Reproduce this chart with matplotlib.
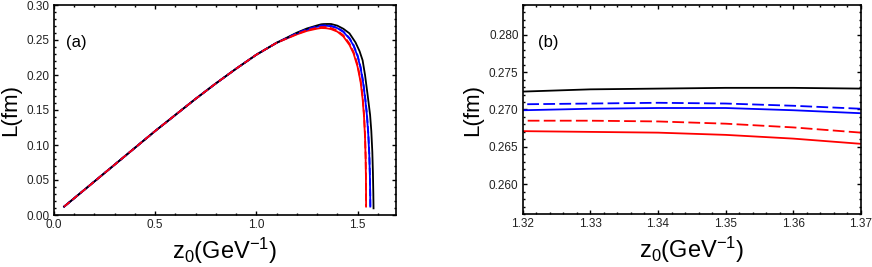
import matplotlib
matplotlib.use("Agg")
import matplotlib.pyplot as plt
from matplotlib.ticker import MultipleLocator, FixedLocator, FormatStrFormatter

plt.rcParams['font.family'] = ['Liberation Sans', 'DejaVu Sans']
plt.rcParams['mathtext.default'] = 'regular'

# ---- data ----
# common rising branch (all curves coincide here)
z_rise = [0.05, 0.10, 0.20, 0.30, 0.40, 0.50, 0.60, 0.70, 0.80, 0.90, 1.00, 1.10]
L_rise = [0.012, 0.024, 0.048, 0.072, 0.096, 0.120, 0.143, 0.166, 0.188, 0.209, 0.229, 0.246]

# near the maximum and the fall-off, per curve
black_z = [1.20, 1.25, 1.30, 1.32, 1.33, 1.34, 1.35, 1.36, 1.37, 1.40, 1.43, 1.46, 1.49, 1.51,
           1.525, 1.537, 1.550, 1.562, 1.568, 1.573, 1.576, 1.578, 1.579]
black_L = [0.2605, 0.2665, 0.2708, 0.2724, 0.2727, 0.2728, 0.2729, 0.2729, 0.2728, 0.2705, 0.2660,
           0.2595, 0.2465, 0.2340, 0.2210, 0.2000, 0.1710, 0.1430, 0.1200, 0.0900, 0.0600, 0.0300, 0.0095]

blue_z = [1.20, 1.25, 1.30, 1.32, 1.33, 1.34, 1.35, 1.36, 1.37, 1.40, 1.43, 1.46, 1.48, 1.50,
          1.515, 1.527, 1.537, 1.546, 1.553, 1.558, 1.561, 1.5625, 1.563]
blue_L = [0.2595, 0.2650, 0.2690, 0.2699, 0.2701, 0.2702, 0.2702, 0.2699, 0.2695, 0.2670, 0.2615,
          0.2520, 0.2420, 0.2270, 0.2100, 0.1900, 0.1680, 0.1430, 0.1150, 0.0850, 0.0550, 0.0300, 0.0120]

red_z = [1.20, 1.25, 1.30, 1.32, 1.33, 1.34, 1.35, 1.36, 1.37, 1.40, 1.43, 1.46, 1.48, 1.50,
         1.515, 1.525, 1.532, 1.537, 1.540, 1.5415, 1.542, 1.5422]
red_L = [0.2580, 0.2630, 0.2662, 0.2671, 0.2670, 0.2669, 0.2666, 0.2661, 0.2654, 0.2620, 0.2550,
         0.2430, 0.2310, 0.2120, 0.1900, 0.1660, 0.1400, 0.1100, 0.0800, 0.0500, 0.0300, 0.0120]

blue_dash_z = [1.20, 1.25, 1.30, 1.32, 1.33, 1.34, 1.35, 1.36, 1.37, 1.40, 1.43, 1.46, 1.48, 1.50,
               1.515, 1.527, 1.537, 1.546, 1.553, 1.558, 1.561, 1.5625, 1.5632]
blue_dash_L = [0.2598, 0.2655, 0.2697, 0.2707, 0.2708, 0.2709, 0.2708, 0.2705, 0.2701, 0.2676, 0.2622,
               0.2528, 0.2430, 0.2282, 0.2115, 0.1918, 0.1700, 0.1455, 0.1178, 0.0880, 0.0580, 0.0330, 0.0120]

red_dash_z = [1.20, 1.25, 1.30, 1.32, 1.33, 1.34, 1.35, 1.36, 1.37, 1.40, 1.43, 1.46, 1.48, 1.50,
              1.515, 1.525, 1.532, 1.537, 1.540, 1.5415, 1.542, 1.5423]
red_dash_L = [0.2585, 0.2640, 0.2675, 0.2685, 0.2685, 0.2684, 0.2681, 0.2676, 0.2669, 0.2634, 0.2566,
              0.2448, 0.2330, 0.2145, 0.1930, 0.1695, 0.1440, 0.1145, 0.0840, 0.0540, 0.0330, 0.0120]

xticks_a = [0.0, 0.5, 1.0, 1.5]
yticks_a = [0.00, 0.05, 0.10, 0.15, 0.20, 0.25, 0.30]
xticks_b = [1.32, 1.33, 1.34, 1.35, 1.36, 1.37]
yticks_b = [0.260, 0.265, 0.270, 0.275, 0.280]

fig = plt.figure(figsize=(8.72, 2.67), dpi=100)
ax1 = fig.add_axes([54/872, 1-215/267, 342/872, 210/267])
ax2 = fig.add_axes([522.7/872, 1-214/267, 338.3/872, 209/267])

curves = [
    (red_z, red_L, 'red', '-'),
    (blue_z, blue_L, 'blue', '-'),
    (black_z, black_L, 'black', '-'),
    (blue_dash_z, blue_dash_L, 'blue', '--'),
    (red_dash_z, red_dash_L, 'red', '--'),
]

for ax, dashes in ((ax1, (4.0, 1.8)), (ax2, (6.5, 2.4))):
    for zs, Ls, c, ls in curves:
        x = z_rise + zs
        y = L_rise + Ls
        if ls == '--':
            ax.plot(x, y, color=c, lw=1.3, dashes=dashes, solid_capstyle='butt')
        else:
            ax.plot(x, y, color=c, lw=1.3)

ax1.set_xlim(0, 1.69)
ax1.set_ylim(0, 0.30)
ax1.xaxis.set_major_locator(FixedLocator(xticks_a))
ax1.xaxis.set_minor_locator(MultipleLocator(0.1))
ax1.yaxis.set_major_locator(FixedLocator(yticks_a))
ax1.yaxis.set_minor_locator(MultipleLocator(0.01))
ax1.xaxis.set_major_formatter(FormatStrFormatter('%.1f'))
ax1.yaxis.set_major_formatter(FormatStrFormatter('%.2f'))

ax2.set_xlim(1.32, 1.37)
ax2.set_ylim(0.256, 0.284)
ax2.xaxis.set_major_locator(FixedLocator(xticks_b))
ax2.xaxis.set_minor_locator(MultipleLocator(0.002))
ax2.yaxis.set_major_locator(FixedLocator(yticks_b))
ax2.yaxis.set_minor_locator(MultipleLocator(0.001))
ax2.xaxis.set_major_formatter(FormatStrFormatter('%.2f'))
ax2.yaxis.set_major_formatter(FormatStrFormatter('%.3f'))

for ax in (ax1, ax2):
    for sp in ax.spines.values():
        sp.set_linewidth(1.2)
    ax.tick_params(which='both', direction='in', top=True, right=True, width=1.0,
                   labelsize=8.5, labelcolor='#222222', pad=3)
    ax.tick_params(which='major', length=3.2)
    ax.tick_params(which='minor', length=1.7)
    ax.set_xlabel('z$_0$(GeV$^{-1}$)', fontsize=17, labelpad=3)
    ax.set_ylabel('L(fm)', fontsize=16, labelpad=4)

ax1.text(0.035, 0.82, '(a)', transform=ax1.transAxes, fontsize=12, va='center', ha='left')
ax2.text(0.045, 0.82, '(b)', transform=ax2.transAxes, fontsize=12, va='center', ha='left')

fig.savefig('out.png', dpi=100)
